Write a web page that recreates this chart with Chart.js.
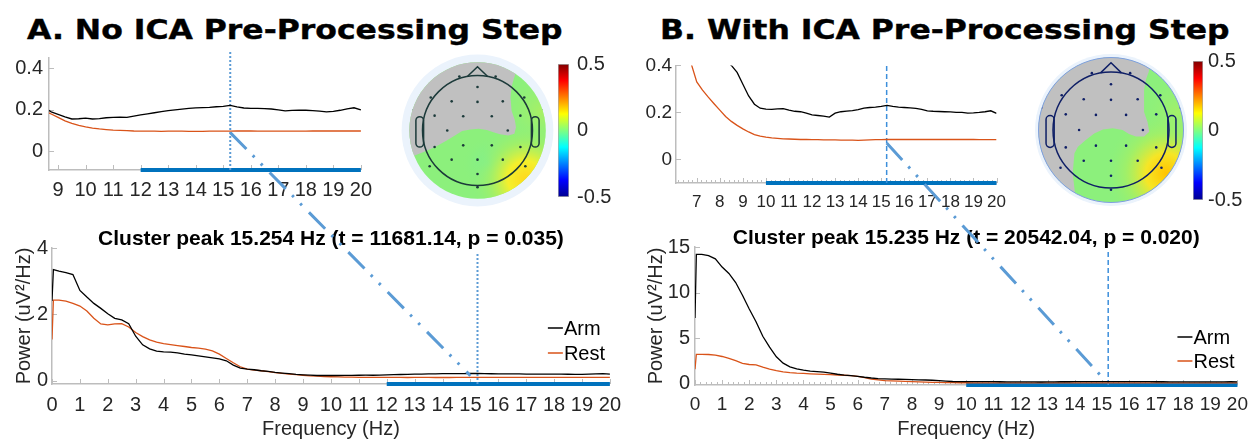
<!DOCTYPE html>
<html>
<head>
<meta charset="utf-8">
<title>Arm vs Rest power spectra</title>
<script src="https://cdn.jsdelivr.net/npm/chart.js@4.4.1/dist/chart.umd.min.js"></script>
<style>
  body { margin: 0; background: #fff; }
  #figure { position: relative; width: 1256px; height: 441px; overflow: hidden; }
  #figure canvas { position: absolute; }
  .panel-title {
    position: absolute; top: 16px; margin: 0;
    font: bold 27px/27px "DejaVu Sans", sans-serif;
    white-space: nowrap; color: #000;
    -webkit-text-stroke: 0.4px #000;
    transform: scaleX(1.165); transform-origin: 0 0;
  }
</style>
</head>
<body>
<div id="figure">
  <h1 class="panel-title" style="left:27px">A. No ICA Pre-Processing Step</h1>
  <h1 class="panel-title" style="left:660px">B. With ICA Pre-Processing Step</h1>

  <canvas id="zoomA" width="380" height="170" style="left:0;top:40px"></canvas>
  <canvas id="scalpA" width="165" height="165" style="left:395px;top:48px"></canvas>
  <canvas id="barA" width="70" height="173" style="left:550px;top:44px"></canvas>
  <canvas id="spectrumA" width="630" height="211" style="left:0;top:230px"></canvas>

  <canvas id="zoomB" width="385" height="170" style="left:630px;top:50px"></canvas>
  <canvas id="scalpB" width="174" height="174" style="left:1024px;top:43px"></canvas>
  <canvas id="barB" width="70" height="173" style="left:1185px;top:44px"></canvas>
  <canvas id="spectrumB" width="626" height="211" style="left:630px;top:230px"></canvas>

  <canvas id="links" width="1256" height="441" style="left:0;top:0;pointer-events:none"></canvas>
</div>
<script>
Chart.defaults.font.family = '"Liberation Sans", Arial, sans-serif';
Chart.defaults.font.size = 20;
Chart.defaults.color = '#262626';
Chart.defaults.animation = false;
Chart.defaults.plugins.legend.display = false;
Chart.defaults.plugins.tooltip.enabled = false;

// Frequency bins (Hz): DC, first bin, then every 0.25 Hz up to 20 Hz
const freqs = [0, 0.05].concat(Array.from({ length: 80 }, (_, i) => (i + 1) * 0.25));

// Power (uV²/Hz) without ICA, one row per Hz after the first two bins
const armA = [2.40, 3.35,
  3.30, 3.26, 3.20, 2.72,
  2.52, 2.33, 2.18, 2.02,
  1.88, 1.83, 1.72, 1.34,
  1.08, 0.96, 0.89, 0.87,
  0.86, 0.84, 0.80, 0.78,
  0.75, 0.72, 0.69, 0.66,
  0.60, 0.47, 0.38, 0.35,
  0.33, 0.30, 0.28, 0.25,
  0.23, 0.21, 0.19, 0.178,
  0.166, 0.156, 0.157, 0.160,
  0.156, 0.158, 0.162, 0.164,
  0.165, 0.164, 0.170, 0.176,
  0.181, 0.186, 0.191, 0.196,
  0.200, 0.204, 0.207, 0.210,
  0.211, 0.212, 0.215, 0.217,
  0.222, 0.214, 0.209, 0.207,
  0.207, 0.206, 0.204, 0.200,
  0.195, 0.197, 0.198, 0.198,
  0.196, 0.194, 0.190, 0.193,
  0.198, 0.205, 0.210, 0.200];
const restA = [1.24, 2.43,
  2.43, 2.40, 2.33, 2.25,
  2.10, 1.88, 1.71, 1.68,
  1.71, 1.72, 1.62, 1.45,
  1.33, 1.23, 1.16, 1.12,
  1.09, 1.06, 1.03, 1.00,
  0.98, 0.95, 0.90, 0.80,
  0.67, 0.54, 0.42, 0.35,
  0.32, 0.30, 0.27, 0.24,
  0.22, 0.196, 0.180, 0.164,
  0.147, 0.135, 0.125, 0.118,
  0.112, 0.108, 0.105, 0.102,
  0.101, 0.100, 0.098, 0.097,
  0.097, 0.097, 0.096, 0.097,
  0.097, 0.097, 0.096, 0.096,
  0.096, 0.097, 0.097, 0.097,
  0.097, 0.098, 0.098, 0.098,
  0.097, 0.097, 0.097, 0.097,
  0.097, 0.097, 0.097, 0.097,
  0.098, 0.098, 0.098, 0.098,
  0.098, 0.098, 0.098, 0.098];

// Power (uV²/Hz) with ICA
const armB = [7.20, 14.20,
  14.20, 14.05, 13.70, 12.80,
  12.10, 11.10, 9.70, 8.20,
  6.80, 5.20, 4.00, 2.95,
  2.25, 1.85, 1.62, 1.48,
  1.38, 1.32, 1.26, 1.16,
  1.03, 0.93, 0.87, 0.80,
  0.70, 0.62, 0.56, 0.53,
  0.50, 0.48, 0.46, 0.44,
  0.42, 0.40, 0.37, 0.32,
  0.27, 0.235, 0.218, 0.214,
  0.213, 0.215, 0.216, 0.210,
  0.205, 0.203, 0.197, 0.190,
  0.187, 0.184, 0.180, 0.197,
  0.203, 0.206, 0.208, 0.212,
  0.218, 0.221, 0.223, 0.226,
  0.230, 0.226, 0.223, 0.221,
  0.219, 0.217, 0.213, 0.207,
  0.205, 0.204, 0.203, 0.202,
  0.200, 0.200, 0.197, 0.198,
  0.200, 0.203, 0.207, 0.196];
const restB = [1.58, 3.22,
  3.22, 3.20, 3.12, 2.98,
  2.78, 2.52, 2.22, 2.10,
  2.05, 1.80, 1.60, 1.44,
  1.30, 1.21, 1.15, 1.12,
  1.08, 1.04, 1.01, 0.98,
  0.95, 0.92, 0.87, 0.80,
  0.65, 0.50, 0.41, 0.33,
  0.295, 0.265, 0.237, 0.210,
  0.183, 0.162, 0.145, 0.130,
  0.117, 0.106, 0.099, 0.095,
  0.092, 0.090, 0.088, 0.087,
  0.086, 0.085, 0.085, 0.084,
  0.084, 0.083, 0.083, 0.083,
  0.082, 0.082, 0.082, 0.081,
  0.082, 0.083, 0.084, 0.084,
  0.085, 0.085, 0.085, 0.085,
  0.085, 0.085, 0.085, 0.085,
  0.085, 0.085, 0.085, 0.085,
  0.085, 0.085, 0.085, 0.085,
  0.084, 0.084, 0.084, 0.084];

// Cluster test results
const peakA = 15.254, peakB = 15.235;
const clusterA = [12, 20], clusterB = [10, 20];
const statsA = 'Cluster peak 15.254 Hz (t = 11681.14, p = 0.035)';
const statsB = 'Cluster peak 15.235 Hz (t = 20542.04, p = 0.020)';

// Where the zoom connector leaves the inset and lands on the full spectrum [Hz, power]
const linkA = { from: [15.254, 0.09], to: [15.0, 0.15] };
const linkB = { from: [15.235, 0.07], to: [15.0, 0.75] };

// Tick values
const mainXTicks = Array.from({ length: 21 }, (_, i) => i);
const zoomXTicksA = [9, 10, 11, 12, 13, 14, 15, 16, 17, 18, 19, 20];
const zoomXTicksB = [7, 8, 9, 10, 11, 12, 13, 14, 15, 16, 17, 18, 19, 20];
const zoomYTicks = [0, 0.2, 0.4];
const mainYTicksA = [0, 2, 4];
const mainYTicksB = [0, 5, 10, 15];
const colorTicks = [-0.5, 0, 0.5];

// Electrode layout, head radius = 1, nose up
const electrodes = [
  [0, 0.79], [-0.47, 0.53], [0, 0.52], [0.46, 0.53],
  [-0.78, 0.27], [-0.26, 0.26], [0.26, 0.26], [0.78, 0.27],
  [-0.55, 0], [0.55, 0],
  [-0.78, -0.3], [-0.26, -0.27], [0.26, -0.27], [0.78, -0.3],
  [-0.47, -0.53], [0, -0.53], [0.46, -0.53], [0, -0.79], [0, -1.03],
  [-1.2, 0.39], [1.2, 0.39], [-0.85, 0.6], [0.85, 0.6], [-0.33, 0.98], [0.33, 0.98],
  [-1.2, -0.41], [1.2, -0.41], [-0.87, -0.65], [0.87, -0.65]
].map(([x, y]) => ({ x, y }));

// Non-significant (masked) part of each topography
const maskA = [
  [-1.6, -0.55], [-1.21, -0.48], [-0.98, -0.39], [-0.77, -0.3], [-0.56, -0.18],
  [-0.41, -0.09], [-0.28, -0.01], [-0.13, 0.02], [0.02, 0.03], [0.17, 0.01],
  [0.29, -0.03], [0.41, -0.07], [0.56, -0.09], [0.67, -0.06], [0.7, 0.06],
  [0.68, 0.18], [0.62, 0.36], [0.6, 0.6], [0.62, 0.79], [0.66, 0.94],
  [0.7, 1.06], [0.75, 1.6], [-1.6, 1.6]
].map(([x, y]) => ({ x, y }));
const maskB = [
  [-0.6, -1.6], [-0.62, -1.1], [-0.66, -0.74], [-0.63, -0.4], [-0.57, -0.29],
  [-0.43, -0.17], [-0.29, -0.06], [-0.14, 0.01], [0.03, 0.03], [0.2, 0],
  [0.31, -0.07], [0.43, -0.11], [0.57, -0.11], [0.66, -0.03], [0.63, 0.14],
  [0.57, 0.31], [0.57, 0.49], [0.57, 0.69], [0.6, 0.86], [0.65, 1.0],
  [0.67, 1.11], [0.72, 1.6], [-1.6, 1.6], [-1.6, -1.6]
].map(([x, y]) => ({ x, y }));

const AXIS_GREY = '#bdbdbd';
const LINK_BLUE = '#5b9bd5';
const SIG_BLUE = '#0072bd';
const ARM_COLOR = '#000000';
const REST_COLOR = '#d95319';

// jet colour map stops
const JET = [[0, '#00008f'], [0.125, '#0000ff'], [0.375, '#00ffff'], [0.5, '#80ff80'],
             [0.625, '#ffff00'], [0.875, '#ff0000'], [1, '#800000']];

function points(ys) {
  return freqs.map((f, i) => ({ x: f, y: ys[i] }));
}
function fixTicks(values) {
  return scale => { scale.ticks = values.map(v => ({ value: v })); };
}
function fixSize(px) {
  return scale => { if (scale.isHorizontal()) scale.height = px; else scale.width = px; };
}

// MATLAB style tick marks pointing into the axes
const innerTicks = {
  id: 'innerTicks',
  beforeDatasetsDraw(chart, args, opts) {
    const { ctx, chartArea: a, scales: { x, y } } = chart;
    ctx.save();
    ctx.strokeStyle = AXIS_GREY;
    ctx.lineWidth = 1;
    ctx.beginPath();
    const mark = (v, len) => {
      const px = Math.round(x.getPixelForValue(v)) + 0.5;
      ctx.moveTo(px, a.bottom);
      ctx.lineTo(px, a.bottom - len);
    };
    if (opts.minor) {
      for (let k = Math.ceil(x.min / opts.minor); k * opts.minor <= x.max + 1e-9; k++) mark(k * opts.minor, 3);
    }
    x.ticks.forEach(t => mark(t.value, 5));
    y.ticks.forEach(t => {
      const py = Math.round(y.getPixelForValue(t.value)) + 0.5;
      ctx.moveTo(a.left, py);
      ctx.lineTo(a.left + 5, py);
    });
    ctx.stroke();
    ctx.restore();
  }
};

// legend drawn inside the axes, right side
const cornerLegend = {
  id: 'cornerLegend',
  afterDatasetsDraw(chart, args, opts) {
    const { ctx, chartArea: a } = chart;
    const items = chart.data.datasets.filter(ds => ds.label);
    ctx.save();
    ctx.font = '20px "Liberation Sans", Arial, sans-serif';
    ctx.textBaseline = 'middle';
    items.forEach((ds, i) => {
      const x = a.right - opts.right;
      const y = a.top + opts.top + i * opts.gap;
      ctx.strokeStyle = ds.borderColor;
      ctx.lineWidth = 1.5;
      ctx.beginPath();
      ctx.moveTo(x, y);
      ctx.lineTo(x + 15, y);
      ctx.stroke();
      ctx.fillStyle = '#000';
      ctx.fillText(ds.label, x + 16, y + 1);
    });
    ctx.restore();
  }
};

function spectrumChart(id, o) {
  return new Chart(id, {
    type: 'line',
    data: {
      datasets: [
        { label: 'Arm', data: points(o.arm), borderColor: ARM_COLOR },
        { label: 'Rest', data: points(o.rest), borderColor: REST_COLOR },
        // peak frequency marker
        { data: [{ x: o.peak, y: o.y[0] }, { x: o.peak, y: o.peakTop }],
          borderColor: o.peakColor, borderWidth: o.peakWidth, borderDash: o.peakDash, clip: false },
        // significant cluster
        { data: [{ x: o.cluster[0], y: o.y[0] }, { x: o.cluster[1], y: o.y[0] }],
          borderColor: SIG_BLUE, borderWidth: 4, borderCapStyle: 'butt', clip: false }
      ]
    },
    options: {
      responsive: false,
      layout: { padding: o.padding, autoPadding: false },
      elements: { point: { radius: 0 }, line: { borderWidth: 1.3, tension: 0 } },
      scales: {
        x: {
          type: 'linear', min: o.x[0], max: o.x[1],
          afterBuildTicks: fixTicks(o.xTicks),
          afterFit: fixSize(o.xAxisHeight),
          grid: { display: false, drawTicks: false },
          border: { color: AXIS_GREY, width: 1.5 },
          ticks: { padding: o.xPad, maxRotation: 0, autoSkip: false, font: { size: o.tickSize },
                   callback: v => String(v) },
          title: o.xTitle
            ? { display: true, text: o.xTitle, font: { size: 20 }, padding: 0 }
            : { display: false }
        },
        y: {
          min: o.y[0], max: o.y[1],
          afterBuildTicks: fixTicks(o.yTicks),
          afterFit: fixSize(o.yAxisWidth),
          grid: { display: false, drawTicks: false },
          border: { color: AXIS_GREY, width: 1.5 },
          ticks: { padding: o.yPad, font: { size: o.yTickSize || o.tickSize }, callback: v => String(v) },
          title: o.yTitle
            ? { display: true, text: o.yTitle, font: { size: 20 }, padding: { top: o.yTitlePad, bottom: 0 } }
            : { display: false }
        }
      },
      plugins: {
        title: o.title
          ? { display: true, text: o.title, fullSize: false, color: '#000', padding: 0,
              font: { size: 21, weight: 'bold', lineHeight: o.titleLine } }
          : { display: false },
        innerTicks: { minor: o.minor || 0 },
        cornerLegend: o.legend || false
      }
    },
    plugins: [innerTicks, cornerLegend]
  });
}

// scalp disk, field colours and head outline around the scatter of electrodes
const scalp = {
  id: 'scalp',
  beforeDatasetsDraw(chart, args, o) {
    const { ctx, scales: { x, y } } = chart;
    const cx = x.getPixelForValue(0), cy = y.getPixelForValue(0);
    const u = x.getPixelForValue(1) - cx;
    ctx.save();
    ctx.fillStyle = o.rimColor;
    ctx.beginPath();
    ctx.arc(cx, cy, o.rim * u, 0, 2 * Math.PI);
    ctx.fill();
    ctx.beginPath();
    ctx.arc(cx, cy, o.disk * u, 0, 2 * Math.PI);
    ctx.clip();
    ctx.fillStyle = o.field;
    ctx.fillRect(cx - 2 * u, cy - 2 * u, 4 * u, 4 * u);
    o.tints.forEach(t => {
      const tx = x.getPixelForValue(t.at[0]), ty = y.getPixelForValue(t.at[1]);
      const g = ctx.createRadialGradient(tx, ty, 0, tx, ty, t.r * u);
      t.colors.forEach((c, i) => g.addColorStop(i / (t.colors.length - 1), c));
      ctx.fillStyle = g;
      ctx.fillRect(cx - 2 * u, cy - 2 * u, 4 * u, 4 * u);
    });
    // the mask and electrodes stay inside the disk; restored below
  },
  afterDatasetsDraw(chart, args, o) {
    const { ctx, scales: { x, y } } = chart;
    ctx.restore();
    const cx = x.getPixelForValue(0), cy = y.getPixelForValue(0);
    const u = x.getPixelForValue(1) - cx;
    ctx.save();
    if (o.edge) {
      ctx.strokeStyle = o.edge;
      ctx.lineWidth = 1;
      ctx.beginPath();
      ctx.arc(cx, cy, o.disk * u, 0, 2 * Math.PI);
      ctx.stroke();
    }
    ctx.strokeStyle = o.outline;
    ctx.lineWidth = 1.5;
    ctx.beginPath();
    ctx.arc(cx, cy, u, 0, 2 * Math.PI);
    ctx.stroke();
    // nose
    ctx.beginPath();
    ctx.moveTo(cx - 0.18 * u, cy - 0.985 * u);
    ctx.lineTo(cx, cy - 1.16 * u);
    ctx.lineTo(cx + 0.18 * u, cy - 0.985 * u);
    ctx.stroke();
    // ears
    ctx.beginPath();
    ctx.roundRect(cx - 1.12 * u, cy - 0.25 * u, 0.14 * u, 0.55 * u, 0.07 * u);
    ctx.roundRect(cx + 0.98 * u, cy - 0.25 * u, 0.14 * u, 0.55 * u, 0.07 * u);
    ctx.stroke();
    ctx.restore();
  }
};

function scalpChart(id, mask, look) {
  return new Chart(id, {
    type: 'scatter',
    data: {
      datasets: [
        { data: electrodes, pointRadius: 1.3, backgroundColor: look.outline, borderWidth: 0 },
        { type: 'line', data: mask, fill: 'shape', backgroundColor: '#c0c0c0',
          borderWidth: 0, pointRadius: 0, tension: 0 }
      ]
    },
    options: {
      responsive: false,
      layout: { padding: 0, autoPadding: false },
      scales: {
        x: { display: false, min: -1.5, max: 1.5 },
        y: { display: false, min: -1.5, max: 1.5 }
      },
      plugins: { scalp: look }
    },
    plugins: [scalp]
  });
}

function colorbarChart(id, o) {
  return new Chart(id, {
    type: 'bar',
    data: {
      labels: [''],
      datasets: [{
        data: [[colorTicks[0], colorTicks[colorTicks.length - 1]]],
        backgroundColor: ctx => {
          const a = ctx.chart.chartArea;
          if (!a) return 'transparent';
          const g = ctx.chart.ctx.createLinearGradient(0, a.bottom, 0, a.top);
          JET.forEach(([s, c]) => g.addColorStop(s, c));
          return g;
        },
        borderColor: '#a8a8a8', borderWidth: 1, borderSkipped: false,
        barPercentage: 1, categoryPercentage: 1
      }]
    },
    options: {
      responsive: false,
      layout: { padding: o.padding, autoPadding: false },
      scales: {
        x: { display: false },
        y: {
          position: 'right', min: colorTicks[0], max: colorTicks[colorTicks.length - 1],
          afterBuildTicks: fixTicks(colorTicks),
          afterFit: fixSize(o.axisWidth),
          grid: { display: false, drawTicks: false },
          border: { display: false },
          ticks: { padding: o.tickPad, font: { size: 20 }, callback: v => String(v) }
        }
      }
    }
  });
}

// Panel A: no ICA
const zoomA = spectrumChart('zoomA', {
  arm: armA, rest: restA, peak: peakA, cluster: clusterA,
  x: [8.67, 20], y: [-0.09, 0.45], xTicks: zoomXTicksA, yTicks: zoomYTicks, tickSize: 20,
  padding: { left: 0, top: 10, right: 17, bottom: 0 }, yAxisWidth: 49, xAxisHeight: 40,
  xPad: 8, yPad: 6, peakTop: 0.48, peakColor: LINK_BLUE, peakWidth: 2, peakDash: [2, 2]
});
scalpChart('scalpA', maskA, {
  rim: 1.38, disk: 1.24, rimColor: '#ebf3fc', field: '#8cf07c', outline: '#1c3a3a', edge: null,
  tints: [
    { at: [1.15, 0.35], r: 0.75, colors: ['rgba(180,240,90,0.7)', 'rgba(140,240,124,0)'] },
    { at: [0.2, -0.6], r: 0.5, colors: ['rgba(110,240,165,0.6)', 'rgba(140,240,124,0)'] },
    { at: [0.88, -0.88], r: 1.0, colors: ['#ffd81c', '#f4f02c', 'rgba(175,240,90,0.55)', 'rgba(140,240,124,0)'] }
  ]
});
colorbarChart('barA', { padding: { left: 8, top: 10, right: 0, bottom: 10 }, axisWidth: 51, tickPad: 8 });
const spectrumA = spectrumChart('spectrumA', {
  arm: armA, rest: restA, peak: peakA, cluster: clusterA,
  x: [0, 20], y: [-0.1, 4], xTicks: mainXTicks, yTicks: mainYTicksA, tickSize: 20,
  padding: { left: 0, top: 0, right: 20, bottom: 0 }, yAxisWidth: 52, xAxisHeight: 57,
  xPad: 9, yPad: 4, peakTop: 3.88, peakColor: LINK_BLUE, peakWidth: 2, peakDash: [2, 2],
  title: statsA, titleLine: 18 / 21, xTitle: 'Frequency (Hz)', yTitle: 'Power (uV²/Hz)', yTitlePad: 12,
  legend: { top: 80, gap: 25, right: 62 }
});

// Panel B: with ICA
const zoomB = spectrumChart('zoomB', {
  arm: armB, rest: restB, peak: peakB, cluster: clusterB,
  x: [6.1, 20], y: [-0.1, 0.4], xTicks: zoomXTicksB, yTicks: zoomYTicks, minor: 0.2,
  tickSize: 17, yTickSize: 19,
  padding: { left: 0, top: 14, right: 18, bottom: 0 }, yAxisWidth: 46, xAxisHeight: 37,
  xPad: 9, yPad: 4, peakTop: 0.4, peakColor: '#3d8fdb', peakWidth: 1.5, peakDash: [5, 3]
});
scalpChart('scalpB', maskB, {
  rim: 1.31, disk: 1.25, rimColor: '#ebf3fc', field: '#8cf07c', outline: '#0f1f66', edge: '#7f9fe0',
  tints: [
    { at: [1.15, 0.3], r: 0.7, colors: ['rgba(180,240,90,0.6)', 'rgba(140,240,124,0)'] },
    { at: [0.95, -0.75], r: 1.05, colors: ['#ffc400', '#f6e626', 'rgba(175,240,90,0.55)', 'rgba(140,240,124,0)'] }
  ]
});
colorbarChart('barB', { padding: { left: 8, top: 10, right: 0, bottom: 10 }, axisWidth: 52, tickPad: 5 });
const spectrumB = spectrumChart('spectrumB', {
  arm: armB, rest: restB, peak: peakB, cluster: clusterB,
  x: [0, 20], y: [-0.15, 15], xTicks: mainXTicks, yTicks: mainYTicksB, minor: 0.2,
  tickSize: 19, yTickSize: 20,
  padding: { left: 0, top: 0, right: 13, bottom: 0 }, yAxisWidth: 65, xAxisHeight: 56,
  xPad: 8, yPad: 5, peakTop: 14.7, peakColor: '#3d8fdb', peakWidth: 1.5, peakDash: [5, 3],
  title: statsB, titleLine: 17 / 21, xTitle: 'Frequency (Hz)', yTitle: 'Power (uV²/Hz)', yTitlePad: 14,
  legend: { top: 90, gap: 24, right: 60 }
});

// dash-dot-dot connectors from each inset peak down to the full spectrum
function pagePoint(chart, [f, v]) {
  const box = chart.canvas.getBoundingClientRect();
  return [box.left + chart.scales.x.getPixelForValue(f), box.top + chart.scales.y.getPixelForValue(v)];
}
const lctx = document.getElementById('links').getContext('2d');
lctx.strokeStyle = LINK_BLUE;
lctx.lineWidth = 3;
lctx.setLineDash([23, 9, 2.5, 9, 2.5, 10]);
[[zoomA, spectrumA, linkA], [zoomB, spectrumB, linkB]].forEach(([inset, full, link]) => {
  const p0 = pagePoint(inset, link.from), p1 = pagePoint(full, link.to);
  lctx.beginPath();
  lctx.moveTo(p0[0], p0[1]);
  lctx.lineTo(p1[0], p1[1]);
  lctx.stroke();
});
</script>
</body>
</html>
